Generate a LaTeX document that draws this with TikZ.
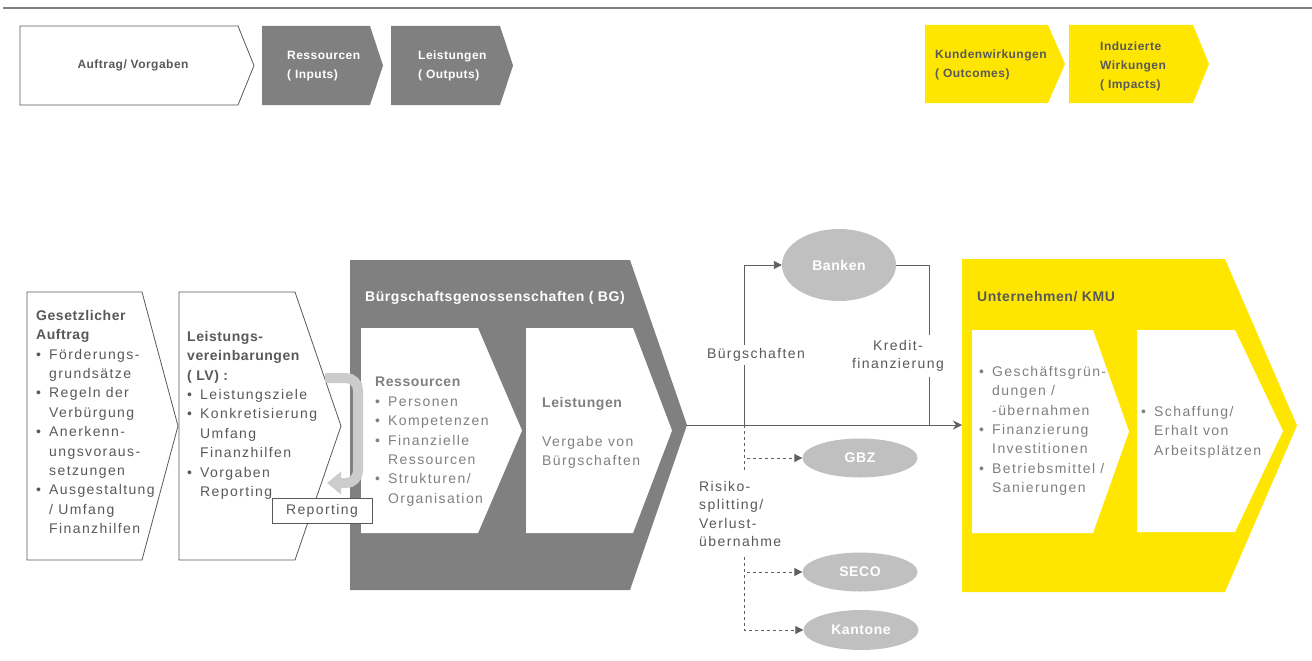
\documentclass[tikz,border=0pt]{standalone}
\usepackage{fontspec}
\setmainfont{Liberation Sans}[LetterSpace=10]
\newfontfamily\headfont{Liberation Sans}[LetterSpace=4]
\usepackage{tikz}
\usetikzlibrary{arrows.meta,shapes.geometric}
\definecolor{eyyellow}{HTML}{FFE600}
\definecolor{bggray}{HTML}{808080}
\definecolor{ellgray}{HTML}{C0C0C0}
\definecolor{loopgray}{HTML}{CCCCCC}
\definecolor{txtdark}{HTML}{595959}
\definecolor{txtmid}{HTML}{808080}
\definecolor{lnk}{HTML}{5F5F5F}
% chevron: [style] left, top, flat right, tip, bottom
\newcommand{\chevron}[6][]{%
  \path[#1] (#2,#3) -- (#4,#3) -- (#5,{(#3+#6)/2}) -- (#4,#6) -- (#2,#6) -- cycle;}
\newcommand{\hd}[1]{{\headfont\bfseries #1}}
\newcommand{\bul}{\makebox[13pt][l]{\textbullet}}
\newcommand{\ind}{\hspace*{13pt}}

\begin{document}
\begin{tikzpicture}[x=1pt,y=-1pt,
  wbox/.style={draw=txtdark,line width=0.8pt,fill=white},
  con/.style={draw=lnk,line width=0.9pt},
  ell/.style={ellipse,fill=ellgray,text=white,inner sep=0pt,
    font=\headfont\bfseries\fontsize{14}{16}\selectfont},
  lbl/.style={fill=white,text=txtdark,inner sep=3pt,
    font=\fontsize{14}{18.3}\selectfont},
  txt/.style={anchor=north west,inner sep=0pt,align=left,
    font=\fontsize{14}{19.4}\selectfont},
  toptxt/.style={anchor=west,inner sep=0pt,align=left,
    font=\headfont\bfseries\fontsize{12}{19}\selectfont}]
\useasboundingbox (0,0) rectangle (1312,661);
\draw[bggray,line width=2.5pt] (3,8) -- (1312,8);
%
% header row
\chevron[wbox]{20}{26}{238}{254}{105}
\chevron[fill=bggray]{262}{26}{370}{383}{105}
\chevron[fill=bggray]{391}{26}{500}{513}{105}
\chevron[fill=eyyellow]{925}{25}{1048}{1065}{103}
\chevron[fill=eyyellow]{1069}{25}{1193}{1209}{103}
\node[toptxt,anchor=center,text=txtdark] (h1) at (133,65) {Auftrag/ Vorgaben};
\node[toptxt,text=white] (h2) at (287,66) {Ressourcen\\( Inputs)};
\node[toptxt,text=white] (h3) at (418,66) {Leistungen\\( Outputs)};
\node[toptxt,text=txtdark] (h4) at (935,65) {Kundenwirkungen\\( Outcomes)};
\node[toptxt,text=txtdark] (h5) at (1100,66) {Induzierte\\Wirkungen\\( Impacts)};
%
% left boxes
\chevron[wbox]{27}{292}{142}{178}{560}
\chevron[wbox]{179}{292}{295}{341}{560}
\node[txt,text=txtdark] (auftrag) at (36,310) {\hd{Gesetzlicher}\\\hd{Auftrag}\\
  \bul F\"orderungs-\\\ind grunds\"atze\\\bul Regeln der\\\ind Verb\"urgung\\
  \bul Anerkenn-\\\ind ungsvoraus-\\\ind setzungen\\\bul Ausgestaltung\\
  \ind / Umfang\\\ind Finanzhilfen};
\node[txt,text=txtdark] (lv) at (187,331) {\hd{Leistungs-}\\\hd{vereinbarungen}\\\hd{( LV) :}\\
  \bul Leistungsziele\\\bul Konkretisierung\\\ind Umfang\\\ind Finanzhilfen\\
  \bul Vorgaben\\\ind Reporting};
%
% Buergschaftsgenossenschaften
\chevron[fill=bggray]{350}{260}{630}{687}{590}
\chevron[fill=white]{361}{328}{478}{522}{533}
\chevron[fill=white]{526}{328}{633}{672}{533}
\node[txt,text=white,font=\headfont\bfseries\fontsize{14}{19}\selectfont] (bg) at (365,291)
  {B\"urgschaftsgenossenschaften ( BG)};
\node[txt,text=txtmid] (res) at (375,377) {\hd{Ressourcen}\\\bul Personen\\\bul Kompetenzen\\
  \bul Finanzielle\\\ind Ressourcen\\\bul Strukturen/\\\ind Organisation};
\node[txt,text=txtmid] (leist) at (542,397) {\hd{Leistungen}\\[19.4pt]Vergabe von\\B\"urgschaften};
%
\coordinate (loopS) at (325,378);
\coordinate (loopE) at (327,483);
\draw[loopgray,line width=10pt,rounded corners=12pt,-{Triangle[length=14pt,width=22pt]}]
  (loopS) -- ++(33,0) |- (loopE);
\node[wbox,minimum width=100pt,minimum height=25pt,inner sep=0pt,text=txtdark,
  font=\fontsize{14}{16}\selectfont] (rep) at (322,511) {Reporting};
%
% Unternehmen / KMU
\chevron[fill=eyyellow]{962}{259}{1225}{1297}{592}
\chevron[fill=white]{972}{330}{1093}{1129}{533}
\chevron[fill=white]{1137}{330}{1235}{1283}{532}
\node[txt,text=txtdark,font=\headfont\bfseries\fontsize{14}{19}\selectfont] (kmu) at (977,291)
  {Unternehmen/ KMU};
\node[txt,text=txtmid] (out) at (979,366) {\bul Gesch\"aftsgr\"un-\\\ind dungen /\\\ind -\"ubernahmen\\
  \bul Finanzierung\\\ind Investitionen\\\bul Betriebsmittel /\\\ind Sanierungen};
\node[txt,text=txtmid] (imp) at (1141,406) {\bul Schaffung/\\\ind Erhalt von\\\ind Arbeitspl\"atzen};
%
% partners
\node[ell,minimum width=114pt,minimum height=72pt] (banken) at (839,265) {Banken};
\node[ell,minimum width=115pt,minimum height=39pt] (gbz) at (860,458) {GBZ};
\node[ell,minimum width=115pt,minimum height=39pt] (seco) at (860,572) {SECO};
\node[ell,minimum width=115pt,minimum height=40pt] (kantone) at (861,630) {Kantone};
%
\coordinate (bgtip) at (687,425);
\coordinate (br) at (744,425);
\coordinate (join) at (929,425);
\coordinate (kmuin) at (962,425);
\draw[con,-{Stealth[length=9pt,width=9pt]}] (bgtip) -- (kmuin);
\draw[con,-{Triangle[length=8pt,width=8pt]}] (br) |- (banken.west);
\draw[con] (banken.east) -| (join);
\foreach \Target in {gbz,seco,kantone}
\draw[con,dashed,-{Triangle[length=8pt,width=8pt]}] (br) |- (\Target.west);
%
\node[lbl] (buerg) at (756,355) {B\"urgschaften};
\node[lbl,align=center,inner ysep=5pt] (kredit) at (898,356) {Kredit-\\finanzierung};
\node[lbl,align=left,anchor=west,inner ysep=9pt] (risiko) at (696,514)
  {Risiko-\\splitting/\\Verlust-\\\"ubernahme};
\end{tikzpicture}
\end{document}
